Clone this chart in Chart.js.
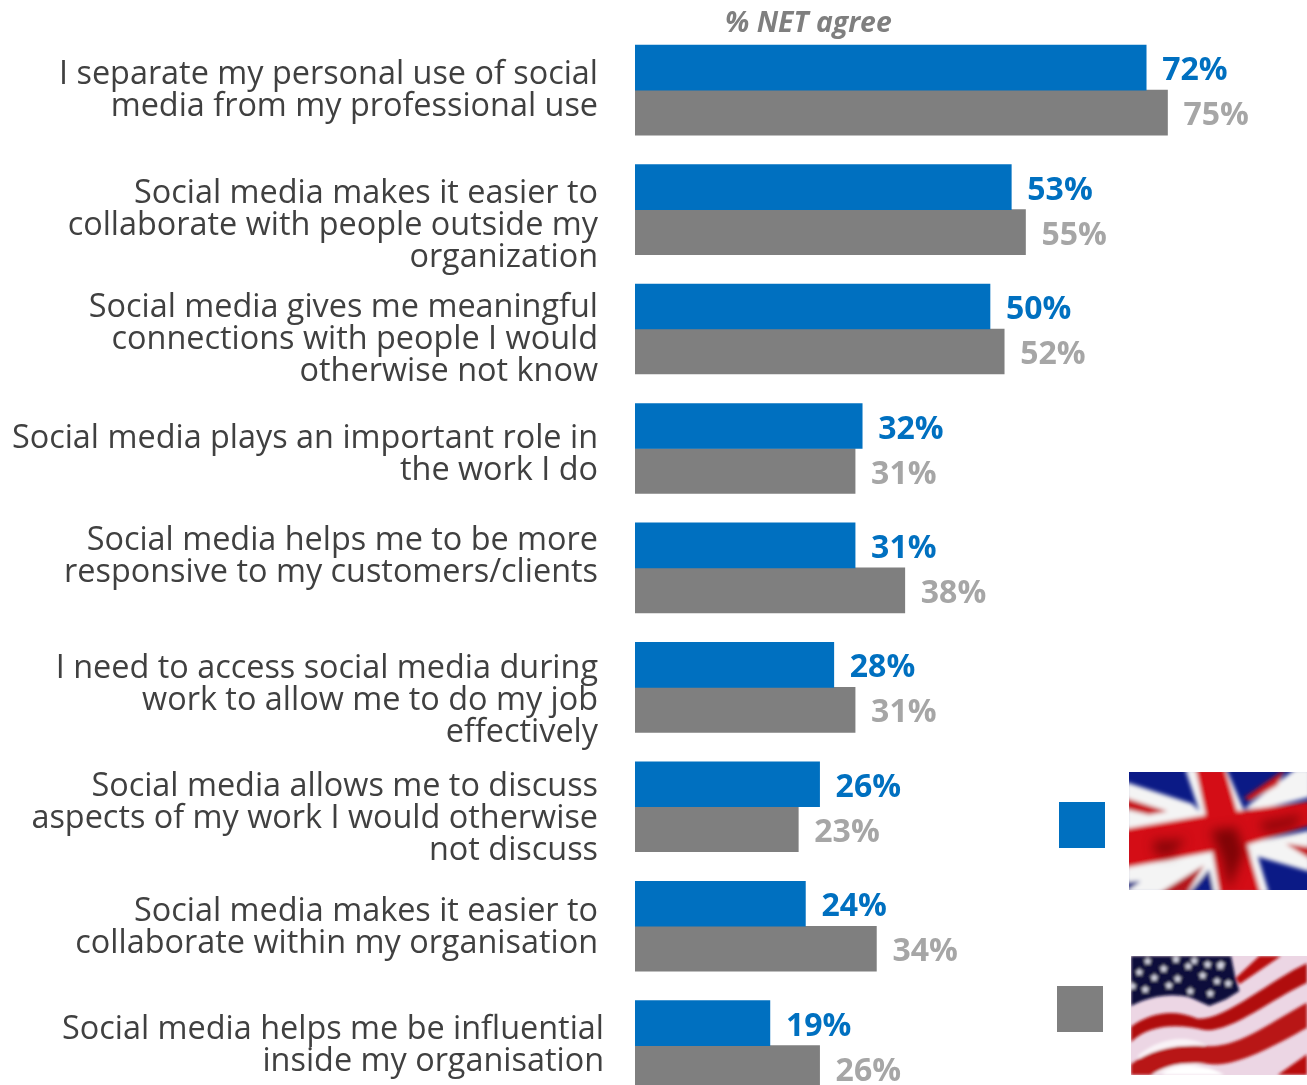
<!DOCTYPE html>
<html>
<head>
<meta charset="utf-8">
<title>Social media at work</title>
<script src="https://cdn.jsdelivr.net/npm/chart.js@4"></script>
<style>
  html, body { margin: 0; padding: 0; width: 1307px; height: 1085px; overflow: hidden; background: #fff; }
  #wrap { position: relative; width: 1307px; height: 1085px; overflow: hidden; }
  #chart { position: absolute; left: 0; top: 0; }
  .flag, .key { position: absolute; }
  .flag { overflow: hidden; }
</style>
</head>
<body>
<div id="wrap">
  <canvas id="chart" width="1307" height="1120"></canvas>

  <div class="key" style="left:1059px;top:802px;width:46px;height:46px;background:#0070c0"></div>
  <div class="key" style="left:1057px;top:986px;width:46px;height:46px;background:#7f7f7f"></div>

  <!-- UK flag -->
  <svg class="flag" style="left:1129px;top:772px" width="178" height="118" viewBox="0 0 534 354" preserveAspectRatio="none">
    <defs>
      <filter id="soft"><feGaussianBlur stdDeviation="6"/></filter>
      <filter id="wide"><feGaussianBlur stdDeviation="16"/></filter>
    </defs>
    <rect width="534" height="354" fill="#0b1a86"/>
    <g filter="url(#soft)">
      <path fill="#f4f4f4" d="M-10,30 L190,95 L250,160 L-10,190 Z"/>
      <path fill="#c8141a" d="M-10,78 L115,118 L60,128 L-10,112 Z"/>
      <path fill="#f4f4f4" d="M345,110 L500,-10 L545,-10 L545,75 L400,110 Z"/>
      <path fill="#c8141a" d="M345,78 L470,-10 L445,40 L362,88 Z"/>
      <path fill="#f4f4f4" d="M340,215 L545,175 L545,300 L390,255 Z"/>
      <path fill="#c8141a" d="M470,215 L545,225 L545,262 Z"/>
      <path fill="#f4f4f4" d="M-10,285 L240,225 L275,364 L-10,364 Z"/>
      <path fill="#0b1a86" d="M-10,330 L35,328 L-10,360 Z"/>
      <path fill="#b5141a" d="M90,364 L225,280 L175,364 Z"/>
      <path fill="#0b1a86" d="M180,364 L240,292 L258,364 Z"/>
      <path fill="#f4f4f4" d="M168,-10 L292,-10 L345,115 L420,364 L255,364 L225,160 Z"/>
      <path fill="#d40f14" d="M-10,170 L230,130 L545,88 L545,160 L340,222 L-10,287 Z"/>
      <path fill="#d40f14" d="M200,-10 L288,-10 L395,364 L272,364 L245,200 Z"/>
    </g>
    <g filter="url(#wide)">
      <path fill="#5c0406" d="M245,175 L320,165 L345,240 L300,354 L280,260 Z" opacity="0.7"/>
      <path fill="#5c0406" d="M70,205 L170,200 L130,250 L80,250 Z" opacity="0.6"/>
      <path fill="#5c0406" d="M390,150 L520,125 L500,165 L410,185 Z" opacity="0.55"/>
    </g>
  </svg>

  <!-- US flag -->
  <svg class="flag" style="left:1131px;top:956px" width="176" height="119" viewBox="0 0 528 357" preserveAspectRatio="none">
    <defs><filter id="soft2"><feGaussianBlur stdDeviation="4"/></filter>
      <path id="st" d="M0,-13 L4,-4 L13,-4 L6,3 L8,12 L0,7 L-8,12 L-6,3 L-13,-4 L-4,-4 Z" fill="#d8d8e4"/>
    </defs>
    <rect width="528" height="357" fill="#ecd6e4"/>
    <g filter="url(#soft2)">
      <path fill="#ffffff" d="M20,300 C90,240 170,240 220,265 L240,320 L60,357 Z" opacity="0.7"/>
      <path fill="#0c0c3a" d="M0,0 L300,0 L312,60 L325,105 L285,130 L235,150 L180,125 C120,110 60,120 0,150 Z"/>
      <path fill="#b81010" d="M315,65 L385,0 L450,0 L325,85 Z"/>
      <path fill="#b01010" d="M0,258 L0,212 C60,168 130,158 200,188 C280,195 420,70 528,22 L528,80 C420,130 300,230 220,222 C150,205 60,200 0,258 Z"/>
      <path fill="#b81212" d="M0,357 L0,325 C60,280 130,265 220,270 C320,280 430,190 528,140 L528,215 C430,270 320,330 240,325 C150,315 100,330 60,357 Z"/>
      <path fill="#b81010" d="M440,357 L528,295 L528,357 Z"/>
      <path fill="#ffffff" d="M90,357 C130,325 220,320 280,357 Z"/>
      <use href="#st" x="50" y="15"/><use href="#st" x="135" y="10"/><use href="#st" x="190" y="14"/>
      <use href="#st" x="270" y="25"/><use href="#st" x="25" y="48"/><use href="#st" x="98" y="38"/>
      <use href="#st" x="172" y="30"/><use href="#st" x="230" y="25"/><use href="#st" x="268" y="30"/>
      <use href="#st" x="70" y="65"/><use href="#st" x="140" y="68"/><use href="#st" x="215" y="58"/>
      <use href="#st" x="258" y="75"/><use href="#st" x="292" y="82"/><use href="#st" x="43" y="100"/>
      <use href="#st" x="114" y="88"/><use href="#st" x="178" y="105"/><use href="#st" x="238" y="112"/>
      <use href="#st" x="5" y="90"/>
    </g>
  </svg>
</div>

<script>
const categorias = [
  ['I separate my personal use of social', 'media from my professional use'],
  ['Social media makes it easier to', 'collaborate with people outside my', 'organization'],
  ['Social media gives me meaningful', 'connections with people I would', 'otherwise not know'],
  ['Social media plays an important role in', 'the work I do'],
  ['Social media helps me to be more', 'responsive to my customers/clients'],
  ['I need to access social media during', 'work to allow me to do my job', 'effectively'],
  ['Social media allows me to discuss', 'aspects of my work I would otherwise', 'not discuss'],
  ['Social media makes it easier to', 'collaborate within my organisation'],
  ['Social media helps me be influential', 'inside my organisation']
];
const valoresUK = [72, 53, 50, 32, 31, 28, 26, 24, 19];
const valoresUS = [75, 55, 52, 31, 38, 31, 23, 34, 26];
const titulo = '% NET agree';

// las etiquetas no van centradas en su grupo de barras
const desplazamiento = [-2, 14, 8, 4, -14, 11, 9, -1, -2];
const bordeDerecho = [598, 598, 598, 598, 598, 598, 598, 598, 604];

const FUENTE = '"Open Sans", sans-serif';

const textos = {
  id: 'textos',
  afterDatasetsDraw(chart) {
    const ctx = chart.ctx;
    const x = chart.scales.x;
    const y = chart.scales.y;
    ctx.save();

    // titulo
    ctx.font = 'italic bold 28.4px ' + FUENTE;
    ctx.fillStyle = '#7f7f7f';
    ctx.textAlign = 'left';
    ctx.textBaseline = 'middle';
    ctx.fillText(titulo, 725, 24);

    // etiquetas de categoria
    ctx.font = '32.4px ' + FUENTE;
    ctx.fillStyle = '#404040';
    ctx.textAlign = 'right';
    categorias.forEach((lineas, i) => {
      const centro = y.getPixelForValue(i) + desplazamiento[i] + 2.5;
      lineas.forEach((linea, j) => {
        ctx.fillText(linea, bordeDerecho[i], centro + (j - (lineas.length - 1) / 2) * 32);
      });
    });

    // valores al final de cada barra
    ctx.font = 'bold 32px ' + FUENTE;
    ctx.textAlign = 'left';
    chart.data.datasets.forEach((ds, d) => {
      const meta = chart.getDatasetMeta(d);
      ctx.fillStyle = d === 0 ? '#0070c0' : '#a6a6a6';
      ds.data.forEach((v, i) => {
        ctx.fillText(v + '%', x.getPixelForValue(v) + 16, meta.data[i].y + 3.5);
      });
    });
    ctx.restore();
  }
};

new Chart(document.getElementById('chart').getContext('2d'), {
  type: 'bar',
  data: {
    labels: categorias.map(c => c.join(' ')),
    datasets: [
      { label: 'UK', data: valoresUK, backgroundColor: '#0070c0', barThickness: 45 },
      { label: 'US', data: valoresUS, backgroundColor: '#7f7f7f', barThickness: 45 }
    ]
  },
  options: {
    indexAxis: 'y',
    responsive: false,
    animation: false,
    layout: { padding: { left: 635, top: 30.4, bottom: 14.6, right: 0 } },
    plugins: { legend: { display: false }, tooltip: { enabled: false } },
    scales: {
      x: { display: false, min: 0, max: 94.65 },
      y: { display: false }
    }
  },
  plugins: [textos]
});
</script>
</body>
</html>
